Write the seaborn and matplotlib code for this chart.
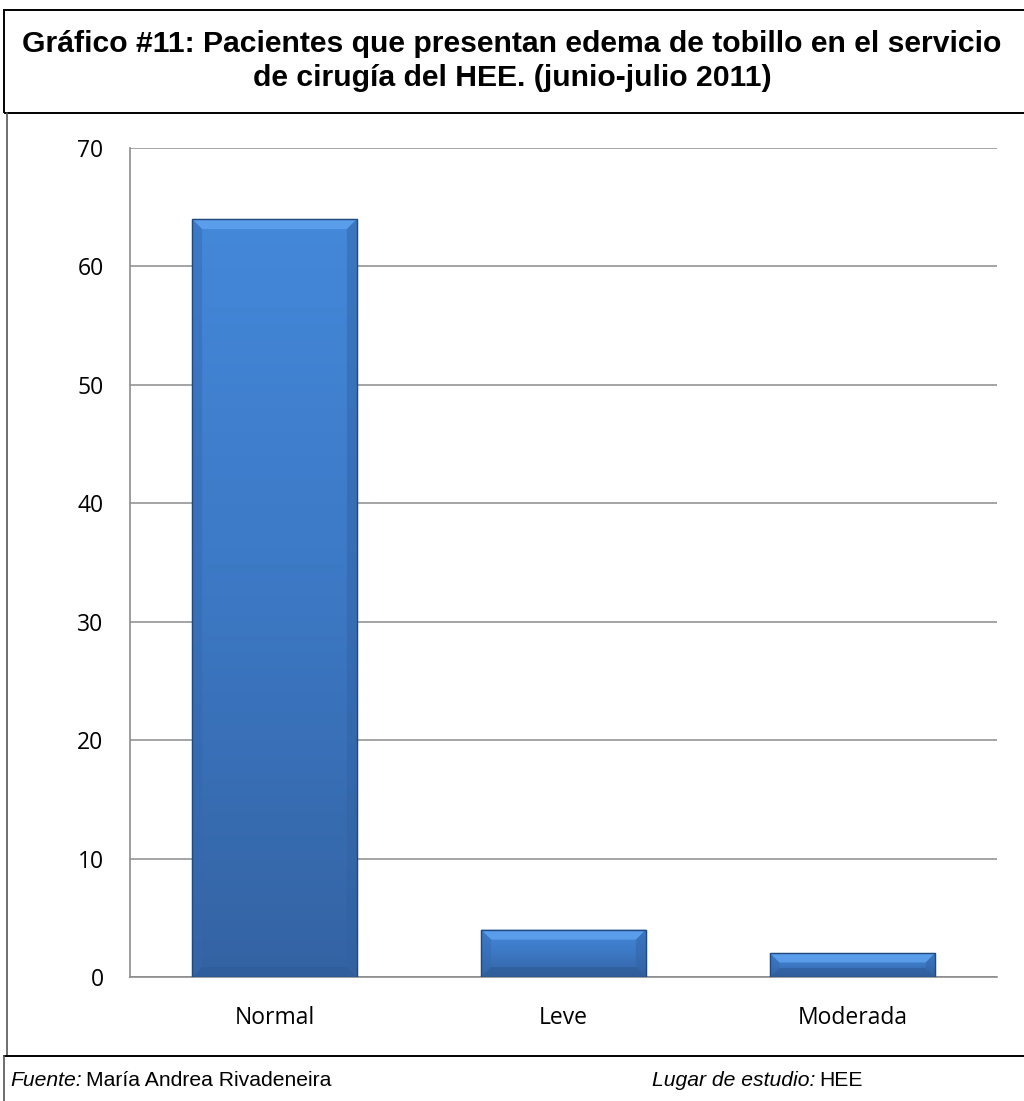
import numpy as np
import pandas as pd
import matplotlib
matplotlib.use("Agg")
import matplotlib.pyplot as plt
import seaborn as sns
from matplotlib.patches import Rectangle, Polygon
from matplotlib.lines import Line2D
from matplotlib.colors import LinearSegmentedColormap

# Datos del gráfico
categorias = ["Normal", "Leve", "Moderada"]
pacientes = [64, 4, 2]
ticks_y = [0, 10, 20, 30, 40, 50, 60, 70]

titulo = ("Gráfico #11: Pacientes que presentan edema de tobillo en el servicio\n"
          "de cirugía del HEE. (junio-julio 2011)")

sns.set_theme(style="white")
plt.rcParams["text.color"] = "black"

W, H = 1024, 1101
fig = plt.figure(figsize=(W / 100, H / 100), dpi=100)
fig.patch.set_facecolor("white")


def fx(px):
    return px / W


def fy(py):
    return 1 - py / H


# Área de trazado
ax = fig.add_axes([fx(130), fy(977), fx(997) - fx(130), fy(148) - fy(977)])
df = pd.DataFrame({"Estado": categorias, "Pacientes": pacientes})
sns.barplot(data=df, x="Estado", y="Pacientes", color="#3D7AC6", saturation=1,
            width=0.57, edgecolor="#2A5896", linewidth=0.8, ax=ax, zorder=3)

ax.set_xlim(-0.5, 2.5)
ax.set_ylim(0, 70)
ax.set_yticks(ticks_y)
ax.set_xlabel("")
ax.set_ylabel("")
ax.yaxis.grid(True, color="#8C8C8C", linewidth=1.1)
ax.set_axisbelow(True)
for s in ["top", "right"]:
    ax.spines[s].set_visible(False)
for s in ["left", "bottom"]:
    ax.spines[s].set_color("#8C8C8C")
    ax.spines[s].set_linewidth(1.2)
ax.tick_params(axis="both", length=0, labelsize=16.5, colors="black")
ax.tick_params(axis="y", pad=19)
ax.tick_params(axis="x", pad=21)
for lab in ax.get_xticklabels() + ax.get_yticklabels():
    lab.set_fontfamily("Open Sans")
    lab.set_color("black")

# Relleno degradado y biselado de cada barra
grad = LinearSegmentedColormap.from_list("azul", ["#3463A3", "#3C78C4", "#4488DA"])
px_x = (997 - 130) / 3.0       # píxeles por unidad de categoría
px_y = (977 - 148) / 70.0      # píxeles por unidad de valor
for p in list(ax.patches):
    x0, y0 = p.get_x(), p.get_y()
    w, h = p.get_width(), p.get_height()
    img = np.linspace(0, 1, 256).reshape(-1, 1)
    im = ax.imshow(img, cmap=grad, origin="lower", aspect="auto",
                   extent=(x0, x0 + w, y0, y0 + h), zorder=3.1)
    im.set_clip_path(p)
    bpx = min(10.0, h * px_y / 2.6)
    bx = bpx / px_x
    by = bpx / px_y
    x1, y1 = x0 + w, y0 + h
    # bisel superior (claro)
    ax.add_patch(Polygon([(x0, y1), (x1, y1), (x1 - bx, y1 - by), (x0 + bx, y1 - by)],
                         closed=True, facecolor="#5FA2EE", edgecolor="none",
                         alpha=0.85, zorder=3.2))
    # bisel inferior (oscuro)
    ax.add_patch(Polygon([(x0, y0), (x1, y0), (x1 - bx, y0 + by), (x0 + bx, y0 + by)],
                         closed=True, facecolor="#2E5A96", edgecolor="none",
                         alpha=0.6, zorder=3.2))
    # biseles laterales
    ax.add_patch(Polygon([(x0, y0), (x0 + bx, y0 + by), (x0 + bx, y1 - by), (x0, y1)],
                         closed=True, facecolor="#3568AC", edgecolor="none",
                         alpha=0.45, zorder=3.2))
    ax.add_patch(Polygon([(x1, y0), (x1 - bx, y0 + by), (x1 - bx, y1 - by), (x1, y1)],
                         closed=True, facecolor="#3061A2", edgecolor="none",
                         alpha=0.45, zorder=3.2))
    # contorno
    ax.add_patch(Rectangle((x0, y0), w, h, facecolor="none",
                           edgecolor="#22497E", linewidth=1.0, zorder=3.3))

# Recuadro del título
fig.add_artist(Rectangle((fx(4), fy(113)), fx(1030) - fx(4), fy(10) - fy(113),
                         transform=fig.transFigure, facecolor="none",
                         edgecolor="black", linewidth=1.4, clip_on=False))
fig.text(0.5, fy(61), titulo, ha="center", va="center", fontsize=21.7,
         fontweight="bold", family="Liberation Sans", linespacing=1.3,
         color="black")

# Bordes del marco del gráfico y pie
fig.add_artist(Line2D([fx(7), fx(7)], [fy(113), fy(1056)], transform=fig.transFigure,
                      color="#555555", linewidth=1.2))
fig.add_artist(Line2D([fx(4), fx(1030)], [fy(1056), fy(1056)], transform=fig.transFigure,
                      color="black", linewidth=1.4))
fig.add_artist(Line2D([fx(4), fx(4)], [fy(1056), fy(1101)], transform=fig.transFigure,
                      color="#555555", linewidth=1.2))

# Pie de gráfico: parte en cursiva y parte normal
renderer = fig.canvas.get_renderer()


def pie(x_px, cursiva, normal):
    t1 = fig.text(fx(x_px), fy(1081), cursiva, ha="left", va="center", fontsize=15.2,
                  style="italic", family="Liberation Sans", color="black")
    bb = t1.get_window_extent(renderer=renderer)
    fig.text(bb.x1 / W + fx(4), fy(1081), normal, ha="left", va="center",
             fontsize=15.2, family="Liberation Sans", color="black")


pie(10, "Fuente:", "María Andrea Rivadeneira")
pie(652, "Lugar de estudio:", "HEE")

fig.savefig("out.png", dpi=100, facecolor="white")
